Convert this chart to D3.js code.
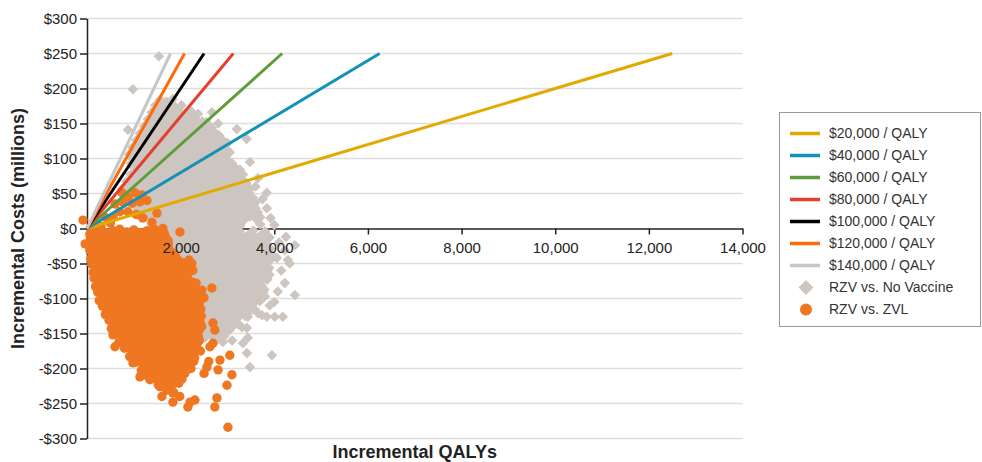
<!DOCTYPE html>
<html>
<head>
<meta charset="utf-8">
<script src="https://cdn.jsdelivr.net/npm/d3@7"></script>
<style>
  body { margin: 0; background: #fff; }
  svg { display: block; font-family: "Liberation Sans", Arial, sans-serif; }
</style>
</head>
<body>
<svg id="chart" width="982" height="462"></svg>
<script>
// willingness-to-pay lines, $ per QALY
const thresholds = [20000, 40000, 60000, 80000, 100000, 120000, 140000];
const thresholdLabels = ["$20,000 / QALY", "$40,000 / QALY", "$60,000 / QALY", "$80,000 / QALY",
  "$100,000 / QALY", "$120,000 / QALY", "$140,000 / QALY"];
const lineTopCost = 250; // lines run from the origin up to $250M

const xTicks = [2000, 4000, 6000, 8000, 10000, 12000, 14000];
const yTicks = [-300, -250, -200, -150, -100, -50, 0, 50, 100, 150, 200, 250, 300];

const seriesNames = ["RZV vs. No Vaccine", "RZV vs. ZVL"];

// [incremental QALYs, incremental cost $M]
const noVaccine = [
  [1560,184],[1700,181],[1830,185],
  [1460,176],[1600,173],[1740,177],[1880,174],[2020,176],
  [1380,166],[1520,163],[1660,167],[1800,164],[1950,166],[2090,163],[2230,167],[2370,164],
  [1300,156],[1440,153],[1590,157],[1730,154],[1880,156],[2020,153],[2170,157],[2310,155],[2460,153],
  [1220,146],[1360,143],[1510,147],[1650,144],[1800,146],[1940,143],[2090,147],[2230,145],[2380,143],[2520,146],[2660,144],
  [1130,136],[1280,133],[1420,137],[1570,134],[1710,136],[1860,133],[2000,137],[2150,135],[2290,133],[2440,136],[2580,134],[2730,137],[2820,133],
  [1050,126],[1190,123],[1340,127],[1480,124],[1630,126],[1770,123],[1920,127],[2060,125],[2210,123],[2350,126],[2500,124],[2640,127],[2790,123],[2900,126],
  [970,116],[1110,113],[1260,117],[1400,114],[1550,116],[1690,113],[1840,117],[1980,115],[2130,113],[2270,116],[2420,114],[2560,117],[2710,113],[2850,116],[2950,114],
  [900,106],[1030,103],[1170,107],[1320,104],[1460,106],[1610,103],[1750,107],[1900,105],[2040,103],[2190,106],[2330,104],[2480,107],[2620,103],[2770,106],[2910,104],[3010,107],
  [940,93],[1090,97],[1230,94],[1380,96],[1520,93],[1670,97],[1810,95],[1960,93],[2100,96],[2250,94],[2390,97],[2540,93],[2680,96],[2830,94],[2970,97],[3100,93],
  [1010,87],[1150,84],[1300,86],[1440,83],[1590,87],[1730,85],[1880,83],[2020,86],[2170,84],[2310,87],[2460,83],[2600,86],[2750,84],[2890,87],[3040,83],[3180,86],
  [930,77],[1070,74],[1220,76],[1360,73],[1510,77],[1650,75],[1800,73],[1940,76],[2090,74],[2230,77],[2380,73],[2520,76],[2670,74],[2810,77],[2960,73],[3100,76],[3240,74],[3330,77],
  [840,67],[990,64],[1130,66],[1280,63],[1420,67],[1570,65],[1710,63],[1860,66],[2000,64],[2150,67],[2290,63],[2440,66],[2580,64],[2730,67],[2870,63],[3020,66],[3160,64],[3310,67],[3400,63],
  [760,57],[900,54],[1050,56],[1190,53],[1340,57],[1480,55],[1630,53],[1770,56],[1920,54],[2060,57],[2210,53],[2350,56],[2500,54],[2640,57],[2790,53],[2930,56],[3080,54],[3220,57],[3370,53],[3480,56],
  [820,44],[970,46],[1110,43],[1260,47],[1400,45],[1550,43],[1690,46],[1840,44],[1980,47],[2130,43],[2270,46],[2420,44],[2560,47],[2710,43],[2850,46],[3000,44],[3140,47],[3290,43],[3430,46],[3540,44],
  [1020,33],[1170,37],[1310,35],[1460,33],[1600,36],[1750,34],[1890,37],[2040,33],[2180,36],[2330,34],[2470,37],[2620,33],[2760,36],[2910,34],[3050,37],[3200,33],[3340,36],[3490,34],[3600,37],
  [1090,27],[1230,25],[1380,23],[1520,26],[1670,24],[1810,27],[1960,23],[2100,26],[2250,24],[2390,27],[2540,23],[2680,26],[2830,24],[2970,27],[3120,23],[3260,26],[3410,24],[3550,27],[3650,23],
  [1150,15],[1440,16],[1590,14],[1730,17],[1880,13],[2020,16],[2170,14],[2310,17],[2460,13],[2600,16],[2750,14],[2890,17],[3040,13],[3180,16],[3330,14],[3470,17],[3620,13],[3700,16],
  [1380,6],[1530,4],[1670,7],[1820,3],[1960,6],[2110,4],[2250,7],[2400,3],[2540,6],[2690,4],[2830,7],[2980,3],[3120,6],[3270,4],[3700,6],
  [1520,-4],[1660,-7],[1810,-3],[1950,-6],[2100,-4],[2240,-7],[2390,-3],[2530,-6],[2680,-4],[2820,-7],[2970,-3],[3110,-6],[3260,-4],[3550,-3],[3800,-4],
  [1620,-16],[1760,-13],[1910,-17],[2050,-14],[2200,-16],[2340,-13],[2490,-17],[2630,-15],[2780,-13],[2920,-16],[3070,-14],[3210,-17],[3360,-13],[3500,-16],[3650,-14],[3790,-17],[3900,-13],
  [1720,-26],[1860,-23],[2010,-27],[2150,-24],[2300,-26],[2440,-23],[2590,-27],[2730,-25],[2880,-23],[3020,-26],[3170,-24],[3310,-27],[3460,-23],[3600,-26],[3750,-24],[3890,-27],
  [1820,-36],[1960,-33],[2110,-37],[2250,-34],[2400,-36],[2540,-33],[2690,-37],[2830,-35],[2980,-33],[3120,-36],[3270,-34],[3410,-37],[3560,-33],[3700,-36],[3850,-34],[3950,-37],
  [1920,-46],[2060,-43],[2210,-47],[2350,-44],[2500,-46],[2640,-43],[2790,-47],[2930,-45],[3080,-43],[3220,-46],[3370,-44],[3510,-47],[3660,-43],[3800,-46],[3930,-44],
  [2010,-56],[2150,-53],[2300,-57],[2440,-54],[2590,-56],[2730,-53],[2880,-57],[3020,-55],[3170,-53],[3310,-56],[3460,-54],[3600,-57],[3750,-53],[3890,-56],
  [2060,-66],[2200,-63],[2350,-67],[2490,-64],[2640,-66],[2780,-63],[2930,-67],[3070,-65],[3220,-63],[3360,-66],[3510,-64],[3650,-67],[3800,-63],[3900,-66],
  [2110,-76],[2250,-73],[2400,-77],[2540,-74],[2690,-76],[2830,-73],[2980,-77],[3120,-75],[3270,-73],[3410,-76],[3560,-74],[3700,-77],[3850,-73],
  [2200,-86],[2340,-83],[2490,-87],[2630,-84],[2780,-86],[2920,-83],[3070,-87],[3210,-85],[3360,-83],[3500,-86],[3650,-84],[3790,-87],
  [2260,-96],[2400,-93],[2550,-97],[2690,-94],[2840,-96],[2980,-93],[3130,-97],[3270,-95],[3420,-93],[3560,-96],[3710,-94],[3800,-97],
  [2260,-106],[2400,-103],[2550,-107],[2690,-104],[2840,-106],[2980,-103],[3130,-107],[3270,-105],[3420,-103],[3560,-106],[3690,-104],
  [2310,-116],[2450,-113],[2600,-117],[2740,-114],[2890,-116],[3030,-113],[3180,-117],[3320,-115],[3470,-113],[3590,-116],
  [2360,-126],[2500,-123],[2650,-127],[2790,-124],[2940,-126],[3080,-123],[3230,-127],[3380,-125],
  [2410,-136],[2550,-133],[2700,-137],[2840,-134],[2990,-136],[3130,-133],[3240,-137],
  [2460,-146],[2600,-143],[2750,-147],[2890,-144],[3030,-146],
  [2520,-156],[2660,-153],[2810,-157],[2930,-154],
  // denser middle of the cloud
  [1530,170],[1670,171],[1810,169],[1950,170],
  [1450,160],[1590,161],[1730,159],[1870,160],[2010,161],[2150,159],[2290,160],
  [1370,150],[1510,151],[1660,149],[1800,150],[1950,151],[2090,149],[2240,150],[2380,151],
  [1290,140],[1430,141],[1580,139],[1720,140],[1870,141],[2010,139],[2160,140],[2300,141],[2450,139],[2590,140],
  [1200,130],[1350,131],[1490,129],[1640,130],[1780,131],[1930,129],[2070,130],[2220,131],[2360,129],[2510,130],[2650,131],[2760,129],
  [1120,120],[1270,121],[1410,119],[1560,120],[1700,121],[1850,119],[1990,120],[2140,121],[2280,119],[2430,120],[2570,121],[2720,119],[2850,120],
  [1040,110],[1190,111],[1330,109],[1480,110],[1620,111],[1770,109],[1910,110],[2060,111],[2200,109],[2350,110],[2490,111],[2640,109],[2780,110],[2920,111],
  [970,100],[1110,101],[1250,99],[1400,100],[1540,101],[1690,99],[1830,100],[1980,101],[2120,99],[2270,100],[2410,101],[2560,99],[2700,100],[2850,101],[2990,99],
  [1020,90],[1160,91],[1310,89],[1450,90],[1600,91],[1740,89],[1890,90],[2030,91],[2180,89],[2320,90],[2470,91],[2610,89],[2760,90],[2900,91],[3050,89],
  [1080,80],[1230,81],[1370,79],[1520,80],[1660,81],[1810,79],[1950,80],[2100,81],[2240,79],[2390,80],[2530,81],[2680,79],[2820,80],[2970,81],[3110,79],[3250,80],
  [1000,70],[1150,71],[1290,69],[1440,70],[1580,71],[1730,69],[1870,70],[2020,71],[2160,69],[2310,70],[2450,71],[2600,69],[2740,70],[2890,71],[3030,69],[3180,70],[3300,71],
  [910,60],[1060,61],[1200,59],[1350,60],[1490,61],[1640,59],[1780,60],[1930,61],[2070,59],[2220,60],[2360,61],[2510,59],[2650,60],[2800,61],[2940,59],[3090,60],[3230,61],[3360,59],
  [900,50],[1040,51],[1190,49],[1330,50],[1480,51],[1620,49],[1770,50],[1910,51],[2060,49],[2200,50],[2350,51],[2490,49],[2640,50],[2780,51],[2930,49],[3070,50],[3220,51],[3360,49],[3470,50],
  [1090,40],[1240,41],[1380,39],[1530,40],[1670,41],[1820,39],[1960,40],[2110,41],[2250,39],[2400,40],[2540,41],[2690,39],[2830,40],[2980,41],[3120,39],[3270,40],[3410,41],[3530,39],
  [1160,30],[1300,31],[1450,29],[1590,30],[1740,31],[1880,29],[2030,30],[2170,31],[2320,29],[2460,30],[2610,31],[2750,29],[2900,30],[3040,31],[3190,29],[3330,30],[3480,31],[3600,29],
  [1300,20],[1450,21],[1600,19],[1740,20],[1890,21],[2030,19],[2180,20],[2320,21],[2470,19],[2610,20],[2760,21],[2900,19],[3050,20],[3190,21],[3340,19],[3480,20],[3620,21],
  [1450,10],[1600,11],[1740,9],[1890,10],[2030,11],[2180,9],[2320,10],[2470,11],[2610,9],[2760,10],[2900,11],[3050,9],[3190,10],[3340,11],
  [1590,0],[1740,1],[1880,-1],[2030,0],[2170,1],[2320,-1],[2460,0],[2610,1],[2750,-1],[2900,0],[3040,1],[3190,-1],
  [1690,-10],[1840,-11],[1980,-9],[2130,-10],[2270,-11],[2420,-9],[2560,-10],[2710,-11],[2850,-9],[3000,-10],[3140,-11],[3290,-9],[3430,-10],[3580,-11],[3720,-9],[3850,-10],
  [1790,-20],[1930,-21],[2080,-19],[2220,-20],[2370,-21],[2510,-19],[2660,-20],[2800,-21],[2950,-19],[3090,-20],[3240,-21],[3380,-19],[3530,-20],[3670,-21],[3820,-19],
  [1890,-30],[2040,-31],[2180,-29],[2330,-30],[2470,-31],[2620,-29],[2760,-30],[2910,-31],[3050,-29],[3200,-30],[3340,-31],[3490,-29],[3630,-30],[3780,-31],[3900,-29],
  [1990,-40],[2130,-41],[2280,-39],[2420,-40],[2570,-41],[2710,-39],[2860,-40],[3000,-41],[3150,-39],[3290,-40],[3440,-41],[3580,-39],[3730,-40],[3870,-41],
  [2080,-50],[2230,-51],[2370,-49],[2520,-50],[2660,-51],[2810,-49],[2950,-50],[3100,-51],[3240,-49],[3390,-50],[3530,-51],[3680,-49],[3820,-50],
  [2130,-60],[2280,-61],[2420,-59],[2570,-60],[2710,-61],[2860,-59],[3000,-60],[3150,-61],[3290,-59],[3440,-60],[3580,-61],[3730,-59],[3860,-60],
  [2180,-70],[2330,-71],[2470,-69],[2620,-70],[2760,-71],[2910,-69],[3050,-70],[3200,-71],[3340,-69],[3490,-70],[3630,-71],[3780,-69],
  [2270,-80],[2420,-81],[2560,-79],[2710,-80],[2850,-81],[3000,-79],[3140,-80],[3290,-81],[3430,-79],[3580,-80],[3720,-81],
  [2330,-90],[2470,-91],[2620,-89],[2760,-90],[2910,-91],[3050,-89],[3200,-90],[3340,-91],[3490,-89],[3630,-90],[3760,-91],
  [2330,-100],[2470,-101],[2620,-99],[2760,-100],[2910,-101],[3050,-99],[3200,-100],[3340,-101],[3490,-99],[3630,-100],
  [2380,-110],[2520,-111],[2670,-109],[2810,-110],[2960,-111],[3100,-109],[3250,-110],[3390,-111],[3530,-109],
  [2430,-120],[2570,-121],[2720,-119],[2860,-120],[3010,-121],[3150,-119],[3300,-120],[3440,-121],
  [2480,-130],[2620,-131],[2770,-129],[2910,-130],[3060,-131],[3190,-129],
  [2530,-140],[2670,-141],[2820,-139],[2960,-140],[3100,-141],
  [2590,-150],[2730,-151],[2870,-149],
  // sparse points round the edge
  [1536,246],[982,199],[875,141],[2670,166],[2800,150],[3200,142],[3410,128],[3050,109],[3265,84],
  [3650,72],[3840,51],[3840,29],[3750,42],[3920,15],[3600,60],[2300,158],[2550,152],[3000,122],
  [3480,95],[3400,65],[4000,5],[4100,-20],[4250,-12],[4440,-24],[4225,-31],[4055,-42],[4290,-45],
  [4330,-50],[4150,-60],[4225,-78],[4075,-90],[4440,-95],[4000,-105],[3900,-110],[4180,-126],
  [4010,-126],[3840,-126],[3740,-124],[3650,-121],[3435,-126],[3160,-124],[3310,-141],[3415,-142],
  [3435,-156],[3330,-164],[2900,-162],[3100,-160],[3415,-178],[3950,-181],[3480,-198]
];

const vsZvl = [
  [120,-4],[260,-2],[410,-6],[560,-3],[700,-1],[850,-5],[1000,-2],[1140,-6],[1290,-3],[1440,-1],[1590,-5],
  [70,-13],[200,-11],[350,-14],[490,-10],[640,-12],[790,-15],[930,-11],[1080,-13],[1230,-10],[1370,-14],[1520,-12],[1670,-11],
  [30,-24],[150,-20],[290,-23],[430,-21],[580,-25],[720,-22],[870,-20],[1010,-24],[1160,-21],[1310,-23],[1450,-20],[1600,-24],[1740,-22],
  [60,-31],[220,-34],[360,-30],[500,-33],[650,-31],[800,-35],[940,-32],[1090,-30],[1230,-34],[1380,-31],[1530,-33],[1670,-30],[1810,-34],
  [80,-43],[240,-40],[380,-44],[530,-41],[670,-43],[820,-40],[960,-44],[1110,-42],[1260,-40],[1400,-44],[1550,-41],[1700,-43],[1840,-40],[1930,-44],
  [100,-51],[260,-54],[400,-50],[550,-53],[690,-51],[840,-55],[990,-52],[1130,-50],[1280,-54],[1420,-51],[1570,-53],[1710,-50],[1860,-54],[2000,-52],
  [130,-63],[280,-60],[420,-64],[570,-61],[720,-63],[860,-60],[1010,-64],[1150,-62],[1300,-60],[1450,-63],[1590,-61],[1740,-64],[1880,-60],[2030,-63],[2100,-61],
  [150,-71],[300,-74],[440,-70],[590,-73],[740,-71],[880,-75],[1030,-72],[1180,-70],[1320,-74],[1470,-71],[1610,-73],[1760,-70],[1900,-74],[2050,-72],[2150,-70],
  [180,-83],[320,-80],[470,-84],[620,-81],[760,-83],[910,-80],[1050,-84],[1200,-82],[1350,-80],[1490,-83],[1640,-81],[1780,-84],[1930,-80],[2070,-83],[2190,-81],
  [230,-91],[370,-94],[520,-90],[660,-93],[810,-91],[960,-95],[1100,-92],[1250,-90],[1390,-94],[1540,-91],[1680,-93],[1830,-90],[1980,-94],[2120,-92],[2240,-90],
  [260,-103],[420,-100],[570,-104],[710,-101],[860,-103],[1010,-100],[1150,-104],[1300,-102],[1440,-100],[1590,-103],[1740,-101],[1880,-104],[2030,-100],[2170,-103],[2250,-101],
  [330,-111],[470,-114],[620,-110],[770,-113],[910,-111],[1060,-115],[1200,-112],[1350,-110],[1500,-114],[1640,-111],[1790,-113],[1930,-110],[2080,-114],[2220,-112],[2300,-110],
  [390,-123],[530,-120],[680,-124],[820,-121],[970,-123],[1120,-120],[1260,-124],[1410,-122],[1550,-120],[1700,-123],[1850,-121],[1990,-124],[2140,-120],[2280,-123],
  [470,-131],[600,-134],[740,-130],[890,-133],[1030,-131],[1180,-135],[1330,-132],[1470,-130],[1620,-134],[1760,-131],[1910,-133],[2060,-130],[2200,-134],[2310,-132],
  [520,-143],[670,-140],[810,-144],[960,-141],[1110,-143],[1250,-140],[1400,-144],[1540,-142],[1690,-140],[1840,-143],[1980,-141],[2130,-144],[2270,-140],
  [600,-151],[740,-154],[890,-150],[1040,-153],[1180,-151],[1330,-155],[1470,-152],[1620,-150],[1770,-154],[1910,-151],[2060,-153],[2200,-150],[2300,-154],
  [680,-163],[850,-160],[990,-164],[1140,-161],[1280,-163],[1430,-160],[1580,-164],[1720,-162],[1870,-160],[2010,-163],[2160,-161],[2290,-164],
  [800,-171],[950,-174],[1090,-170],[1240,-173],[1380,-171],[1530,-175],[1680,-172],[1820,-170],[1970,-174],[2110,-171],[2240,-173],
  [910,-183],[1050,-180],[1200,-184],[1340,-181],[1490,-183],[1640,-180],[1780,-184],[1930,-182],[2070,-180],[2210,-183],
  [1040,-191],[1190,-194],[1330,-190],[1480,-193],[1630,-191],[1770,-195],[1920,-192],[2060,-190],[2190,-194],
  [1160,-203],[1300,-200],[1450,-204],[1590,-201],[1740,-203],[1890,-200],[2030,-204],[2150,-201],
  [1300,-211],[1450,-214],[1600,-210],[1740,-213],[1890,-211],[2030,-215],
  [1520,-223],[1670,-220],[1810,-224],[1960,-221],
  [1700,-231],[1850,-234],
  // denser middle of the cloud
  [60,-8],[190,-9],[330,-7],[480,-8],[630,-9],[780,-7],[920,-8],[1070,-9],[1210,-7],[1360,-8],[1510,-9],[1650,-7],
  [110,-18],[270,-19],[420,-17],[560,-18],[710,-19],[860,-17],[1000,-18],[1150,-19],[1300,-17],[1440,-18],[1590,-19],[1730,-17],
  [130,-28],[270,-29],[420,-27],[560,-28],[710,-29],[850,-27],[1000,-28],[1150,-29],[1290,-27],[1440,-28],[1580,-29],[1730,-27],
  [150,-38],[300,-39],[440,-37],[590,-38],[730,-39],[880,-37],[1030,-38],[1170,-39],[1320,-37],[1460,-38],[1610,-39],[1760,-37],[1880,-38],
  [180,-48],[320,-49],[470,-47],[610,-48],[760,-49],[910,-47],[1050,-48],[1200,-49],[1340,-47],[1490,-48],[1640,-49],[1780,-47],[1930,-48],[2060,-49],
  [200,-58],[340,-59],[490,-57],[640,-58],[780,-59],[930,-57],[1070,-58],[1220,-59],[1370,-57],[1510,-58],[1660,-59],[1800,-57],[1950,-58],[2080,-59],
  [220,-68],[370,-69],[510,-67],[660,-68],[810,-69],[950,-67],[1100,-68],[1240,-69],[1390,-67],[1540,-68],[1680,-69],[1830,-67],[1970,-68],[2110,-69],
  [240,-78],[390,-79],[540,-77],[680,-78],[830,-79],[970,-77],[1120,-78],[1270,-79],[1410,-77],[1560,-78],[1700,-79],[1850,-77],[2000,-78],[2140,-79],[2260,-77],
  [280,-88],[430,-89],[570,-87],[720,-88],[870,-89],[1010,-87],[1160,-88],[1300,-89],[1450,-87],[1600,-88],[1740,-89],[1890,-87],[2030,-88],[2180,-89],[2300,-87],
  [330,-98],[480,-99],[620,-97],[770,-98],[910,-99],[1060,-97],[1210,-98],[1350,-99],[1500,-97],[1640,-98],[1790,-99],[1940,-97],[2080,-98],[2230,-99],[2340,-97],
  [380,-108],[530,-109],[670,-107],[820,-108],[970,-109],[1110,-107],[1260,-108],[1400,-109],[1550,-107],[1700,-108],[1840,-109],[1990,-107],[2130,-108],[2280,-109],[2380,-107],
  [440,-118],[590,-119],[740,-117],[880,-118],[1030,-119],[1170,-117],[1320,-118],[1470,-119],[1610,-117],[1760,-118],[1900,-119],[2050,-117],[2200,-118],[2340,-119],
  [510,-128],[660,-129],[800,-127],[950,-128],[1100,-129],[1240,-127],[1390,-128],[1530,-129],[1680,-127],[1830,-128],[1970,-129],[2120,-127],[2260,-128],[2380,-129],
  [580,-138],[730,-139],[880,-137],[1020,-138],[1170,-139],[1310,-137],[1460,-138],[1610,-139],[1750,-137],[1900,-138],[2040,-139],[2190,-137],[2330,-138],
  [660,-148],[810,-149],[950,-147],[1100,-148],[1250,-149],[1390,-147],[1540,-148],[1680,-149],[1830,-147],[1980,-148],[2120,-149],[2270,-147],
  [760,-158],[900,-159],[1050,-157],[1200,-158],[1340,-159],[1490,-157],[1640,-158],[1780,-159],[1930,-157],[2070,-158],[2220,-159],[2330,-157],
  [870,-168],[1020,-169],[1160,-167],[1310,-168],[1460,-169],[1600,-167],[1750,-168],[1890,-169],[2040,-167],[2190,-168],[2300,-169],
  [980,-178],[1120,-179],[1270,-177],[1410,-178],[1560,-179],[1710,-177],[1850,-178],[2000,-179],[2140,-177],[2260,-178],
  [1110,-188],[1260,-189],[1400,-187],[1550,-188],[1700,-189],[1840,-187],[1990,-188],[2130,-189],
  [1230,-198],[1370,-199],[1520,-197],[1670,-198],[1810,-199],[1960,-197],[2100,-198],
  [1370,-208],[1520,-209],[1670,-207],[1810,-208],[1960,-209],[2090,-207],
  [1590,-218],[1740,-219],[1880,-217],
  // right side of the core
  [2180,-45],[2120,-55],[2330,-85],[2380,-95],[2400,-105],[2430,-115],[2440,-125],[2420,-135],
  [2400,-145],[2380,-155],[2350,-165],[2300,-175],[2280,-190],[2220,-200],
  // above the axis
  [-85,12],[170,5],[384,16],[555,16],[700,24],[747,51],[768,38],[875,45],[960,36],[1024,51],
  [1130,38],[1174,48],[1280,40],[1387,9],[1494,22],[1620,0],[875,24],[1050,20],[1200,15],
  [600,35],[500,8],[300,3],[1985,-5],
  // sparse points round the edge
  [-40,-22],[210,-85],[555,-152],[597,-169],[982,-192],[1131,-212],[1344,-216],[1558,-226],
  [1835,-235],[1835,-248],[2155,-255],[2305,-245],[2200,-248],[1600,-240],[1980,-240],
  [2240,-50],[2260,-60],[2330,-78],[2455,-88],[2500,-99],[2667,-85],[2400,-112],[2370,-130],
  [2450,-140],[2690,-135],[2730,-145],[2400,-160],[2625,-169],[2690,-164],[2420,-175],[2300,-185],
  [2840,-188],[2600,-190],[3050,-181],[2560,-198],[2800,-202],[2500,-207],[3095,-209],[2990,-224],
  [2775,-242],[2730,-255],[3010,-284]
];

const lineColors = ["#e2aa00", "#1392b6", "#5e9c3c", "#e3402f", "#000000", "#ff6a0a", "#c6c6c6"];
const novaxColor = "#cdc6c0";
const zvlColor = "#ef7722";

const svg = d3.select("#chart");

const x = d3.scaleLinear().domain([0, 14000]).range([87, 742.5]);
const y = d3.scaleLinear().domain([-300, 300]).range([438.5, 18.5]);

// grid
svg.append("g")
  .selectAll("line")
  .data(yTicks.filter(d => d !== 0))
  .enter().append("line")
  .attr("x1", x(0)).attr("x2", x(14000))
  .attr("y1", d => y(d)).attr("y2", d => y(d))
  .attr("stroke", "#dddddd")
  .attr("stroke-width", 1.6);

const money = d => (d < 0 ? "-$" : "$") + Math.abs(d);

// axis lines sit under the points
const xAxis = d3.axisBottom(x).tickValues(xTicks).tickSize(6).tickSizeOuter(0)
  .tickPadding(8).tickFormat(d3.format(","));
const xLines = svg.append("g")
  .attr("transform", "translate(0," + y(0) + ")")
  .call(xAxis);
xLines.selectAll("text").remove();

const yAxisG = svg.append("g")
  .attr("transform", "translate(" + x(0) + ",0)")
  .call(d3.axisLeft(y).tickValues(yTicks).tickSize(7).tickSizeOuter(0).tickPadding(3).tickFormat(money));

svg.selectAll(".domain, .tick line").attr("stroke", "#222").attr("stroke-width", 1.5);
yAxisG.selectAll("text").attr("font-size", 15).attr("fill", "#222")
  .attr("font-family", "Liberation Sans, Arial, sans-serif");

// scatter
const diamond = d3.symbol().type(d3.symbolSquare).size(56);
svg.append("g")
  .selectAll("path")
  .data(noVaccine)
  .enter().append("path")
  .attr("d", diamond)
  .attr("transform", d => "translate(" + x(d[0]) + "," + y(d[1]) + ") rotate(45)")
  .attr("fill", novaxColor);

svg.append("g")
  .selectAll("circle")
  .data(vsZvl)
  .enter().append("circle")
  .attr("cx", d => x(d[0]))
  .attr("cy", d => y(d[1]))
  .attr("r", 4.7)
  .attr("fill", zvlColor);

// threshold lines
svg.append("g")
  .selectAll("line")
  .data(thresholds)
  .enter().append("line")
  .attr("x1", x(0)).attr("y1", y(0))
  .attr("x2", d => x(lineTopCost * 1e6 / d))
  .attr("y2", y(lineTopCost))
  .attr("stroke", (d, i) => lineColors[i])
  .attr("stroke-width", 3);

// x tick labels on top of the points
const xLabels = svg.append("g")
  .attr("transform", "translate(0," + y(0) + ")")
  .call(xAxis);
xLabels.select(".domain").remove();
xLabels.selectAll(".tick line").remove();
xLabels.selectAll("text").attr("font-size", 15).attr("fill", "#222")
  .attr("font-family", "Liberation Sans, Arial, sans-serif");

// axis titles
svg.append("text")
  .attr("transform", "translate(24," + y(0) + ") rotate(-90)")
  .attr("text-anchor", "middle")
  .attr("font-size", 18).attr("font-weight", "bold").attr("fill", "#222")
  .text("Incremental Costs (millions)");

svg.append("text")
  .attr("x", (x(0) + x(14000)) / 2).attr("y", 458)
  .attr("text-anchor", "middle")
  .attr("font-size", 18).attr("font-weight", "bold").attr("fill", "#222")
  .text("Incremental QALYs");

// legend
const legend = svg.append("g");
legend.append("rect")
  .attr("x", 779.5).attr("y", 112.5).attr("width", 201).attr("height", 214)
  .attr("fill", "#fff").attr("stroke", "#999");

const rowY = i => 133.5 + i * 22;
const items = legend.selectAll("g.item")
  .data(thresholdLabels)
  .enter().append("g").attr("class", "item")
  .attr("transform", (d, i) => "translate(0," + rowY(i) + ")");
items.append("line")
  .attr("x1", 790).attr("x2", 820)
  .attr("stroke", (d, i) => lineColors[i]).attr("stroke-width", 3.5);
items.append("text")
  .attr("x", 829).attr("dy", "0.35em")
  .attr("font-size", 14).attr("fill", "#333")
  .text(d => d);

legend.append("path")
  .attr("d", d3.symbol().type(d3.symbolSquare).size(110))
  .attr("transform", "translate(806," + rowY(7) + ") rotate(45)")
  .attr("fill", novaxColor);
legend.append("circle")
  .attr("cx", 806).attr("cy", rowY(8)).attr("r", 6)
  .attr("fill", zvlColor);
legend.selectAll("text.series")
  .data(seriesNames)
  .enter().append("text").attr("class", "series")
  .attr("x", 829).attr("y", (d, i) => rowY(7 + i)).attr("dy", "0.35em")
  .attr("font-size", 14).attr("fill", "#333")
  .text(d => d);
</script>
</body>
</html>
